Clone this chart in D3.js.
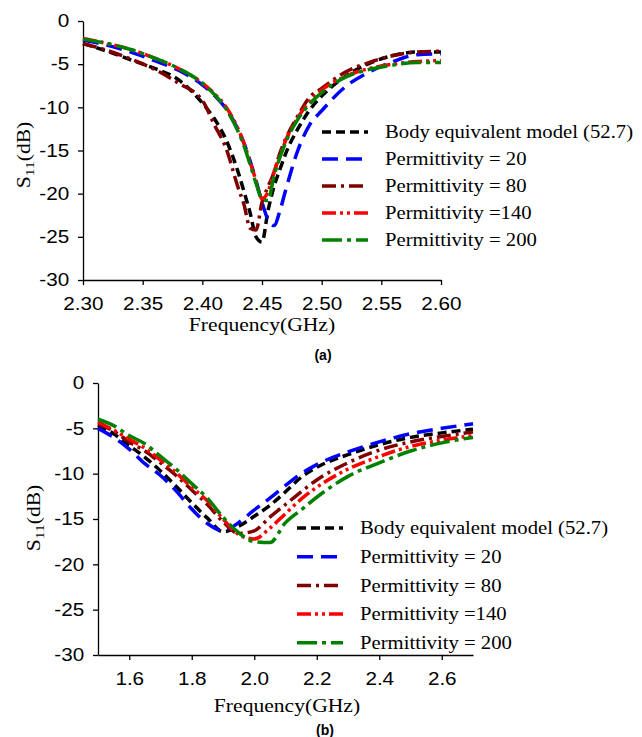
<!DOCTYPE html>
<html>
<head>
<meta charset="utf-8">
<title>S11 vs frequency</title>
<style>
  body { margin: 0; background: #fff; }
  .tick text { font-family: "Liberation Sans", Arial, sans-serif; font-size: 18px; fill: #000; }
  .domain, .tick line { stroke: #000; stroke-width: 1.3px; }
  .serif { font-family: "Liberation Serif", "Times New Roman", serif; font-size: 18px; fill: #000; }
  .tag { font-family: "Liberation Sans", Arial, sans-serif; font-size: 14px; font-weight: bold; }
  .curve { fill: none; stroke-width: 3.5px; }
</style>
<script src="https://d3js.org/d3.v7.min.js"></script>
</head>
<body>
<svg id="chart" width="642" height="737"></svg>
<script>
// series names (legend)
var names = ["Body equivalent model (52.7)", "Permittivity = 20", "Permittivity = 80", "Permittivity =140", "Permittivity = 200"];
var colors = ["#000000", "#0000ff", "#800000", "#ff0000", "#008000"];
var dashes = ["9,5", "16,8", "14,5,3,5", "14,4,3,4,3,4", "20,5,4,5"];

// (a) frequency in GHz, S11 in dB
var freqA = [2.30, 2.32, 2.34, 2.36, 2.38, 2.40, 2.41, 2.42, 2.43, 2.435, 2.44, 2.445, 2.45, 2.455, 2.46, 2.465, 2.47, 2.48, 2.49, 2.50, 2.52, 2.54, 2.56, 2.58, 2.60];
var bodyA  = [-2.6, -3.5, -4.5, -5.5, -6.8, -9.5, -11.3, -13.8, -17.5, -19.8, -22.2, -25.0, -25.6, -22.0, -19.2, -17.2, -15.3, -12.5, -10.3, -8.7, -6.4, -4.9, -4.0, -3.6, -3.6];
var e20A   = [-2.2, -2.8, -3.6, -4.6, -5.7, -7.4, -8.6, -10.2, -12.6, -14.2, -16.2, -18.5, -21.0, -23.0, -23.7, -22.0, -19.5, -15.0, -12.0, -10.4, -7.6, -5.9, -4.7, -3.9, -3.8];
var e80A   = [-2.6, -3.4, -4.4, -5.6, -7.2, -9.2, -12.0, -14.8, -19.3, -21.3, -24.0, -24.2, -21.0, -19.2, -17.6, -15.3, -13.6, -11.0, -8.8, -7.8, -5.9, -4.8, -4.0, -3.6, -3.5];
var e140A  = [-2.0, -2.6, -3.3, -4.3, -5.5, -7.2, -8.4, -10.0, -12.5, -14.2, -16.3, -18.5, -20.6, -19.8, -17.5, -15.6, -13.8, -11.2, -9.3, -8.0, -6.4, -5.5, -5.0, -4.7, -4.6];
var e200A  = [-2.1, -2.6, -3.3, -4.3, -5.5, -7.2, -8.5, -10.2, -12.8, -14.5, -16.6, -18.8, -20.6, -20.8, -18.0, -15.8, -14.0, -11.4, -9.6, -8.3, -6.5, -5.6, -5.1, -4.8, -4.8];

// (b)
var freqB = [1.50, 1.55, 1.60, 1.65, 1.70, 1.75, 1.80, 1.85, 1.90, 1.95, 2.00, 2.05, 2.10, 2.15, 2.20, 2.30, 2.40, 2.50, 2.60, 2.70];
var bodyB  = [-4.7, -5.6, -6.9, -8.2, -9.7, -11.4, -13.2, -14.9, -16.4, -15.8, -14.7, -13.5, -12.0, -10.4, -9.3, -7.9, -6.8, -6.0, -5.5, -5.1];
var e20B   = [-5.0, -6.0, -7.3, -8.9, -10.2, -11.9, -13.9, -15.5, -16.3, -15.4, -14.0, -12.7, -11.3, -10.0, -9.0, -7.6, -6.5, -5.6, -5.0, -4.5];
var e80B   = [-4.5, -5.3, -6.5, -7.5, -8.8, -10.2, -11.8, -13.4, -15.3, -16.6, -16.3, -14.8, -13.4, -12.0, -10.7, -8.8, -7.4, -6.5, -5.9, -5.4];
var e140B  = [-4.3, -5.2, -6.2, -7.2, -8.5, -9.9, -11.5, -13.0, -15.0, -16.7, -17.2, -16.0, -14.4, -12.8, -11.5, -9.5, -8.1, -7.0, -6.3, -5.8];
var e200B  = [-4.0, -4.7, -5.8, -6.7, -8.1, -9.5, -11.1, -12.7, -14.8, -16.5, -17.5, -17.6, -15.4, -14.0, -12.6, -10.3, -8.8, -7.5, -6.6, -6.0];

var yTicks = [0, -5, -10, -15, -20, -25, -30];
var xTicksA = [2.30, 2.35, 2.40, 2.45, 2.50, 2.55, 2.60];
var xTicksB = [1.6, 1.8, 2.0, 2.2, 2.4, 2.6];

var svg = d3.select("#chart");
var sx = "scale(1.15,1)";

function panel(p) {
    var x = d3.scaleLinear().domain(p.xDomain).range([p.left, p.right]);
    var y = d3.scaleLinear().domain([0, -30]).range([p.top, p.bottom]);
    var g = svg.append("g");

    var xa = g.append("g").attr("transform", "translate(0," + p.bottom + ")")
        .call(d3.axisBottom(x).tickValues(p.xTicks).tickFormat(d3.format(p.fmt)).tickSize(5).tickSizeOuter(0));
    xa.selectAll("text").attr("dy", "1.2em").attr("transform", sx);

    // plain hyphen for negatives, like the original
    var ya = g.append("g").attr("transform", "translate(" + p.left + ",0)")
        .call(d3.axisLeft(y).tickValues(yTicks).tickFormat(function(d) { return String(d); }).tickSize(5).tickSizeOuter(0));
    ya.selectAll("text").attr("x", -12).attr("transform", sx);

    p.series.forEach(function(vals, i) {
        var pts = p.freq.map(function(f, j) { return [f, vals[j]]; });
        g.append("path").datum(pts).attr("class", "curve")
            .attr("stroke", colors[i]).attr("stroke-dasharray", dashes[i])
            .attr("d", d3.line().x(function(d) { return x(d[0]); }).y(function(d) { return y(d[1]); }).curve(d3.curveMonotoneX));
    });

    // legend
    names.forEach(function(n, i) {
        var ly = p.legY + i * p.legStep;
        g.append("line").attr("x1", p.legX).attr("x2", p.legX + 46).attr("y1", ly).attr("y2", ly)
            .attr("stroke", colors[i]).attr("stroke-width", 3.5).attr("stroke-dasharray", dashes[i]);
        g.append("text").attr("class", "serif")
            .attr("transform", "translate(" + (p.legX + 63) + "," + ly + ") " + sx)
            .attr("dy", "0.35em").text(n);
    });

    g.append("text").attr("class", "serif").attr("text-anchor", "middle")
        .attr("transform", "translate(" + p.titleX + "," + p.titleY + ") scale(1.2,1)")
        .text("Frequency(GHz)");

    var yl = g.append("text").attr("class", "serif").attr("text-anchor", "middle")
        .attr("transform", "translate(" + p.ylabX + "," + p.ylabY + ") rotate(-90) scale(1.2,1)");
    yl.append("tspan").text("S");
    yl.append("tspan").attr("font-size", "13px").attr("dy", 4).text("11");
    yl.append("tspan").attr("dy", -4).text("(dB)");

    g.append("text").attr("class", "tag").attr("text-anchor", "middle")
        .attr("x", p.tagX).attr("y", p.tagY).text(p.tag);
}

panel({
    xDomain: [2.30, 2.60], left: 83, right: 441, top: 21, bottom: 280,
    xTicks: xTicksA, fmt: ".2f", freq: freqA,
    series: [bodyA, e20A, e80A, e140A, e200A],
    legX: 322, legY: 132, legStep: 27,
    titleX: 262, titleY: 331, ylabX: 30, ylabY: 155,
    tag: "(a)", tagX: 323, tagY: 360
});

panel({
    xDomain: [1.5, 2.7], left: 98, right: 473, top: 383, bottom: 655,
    xTicks: xTicksB, fmt: ".1f", freq: freqB,
    series: [bodyB, e20B, e80B, e140B, e200B],
    legX: 297, legY: 528, legStep: 28.7,
    titleX: 287, titleY: 712, ylabX: 40, ylabY: 518,
    tag: "(b)", tagX: 325, tagY: 735
});
</script>
</body>
</html>
